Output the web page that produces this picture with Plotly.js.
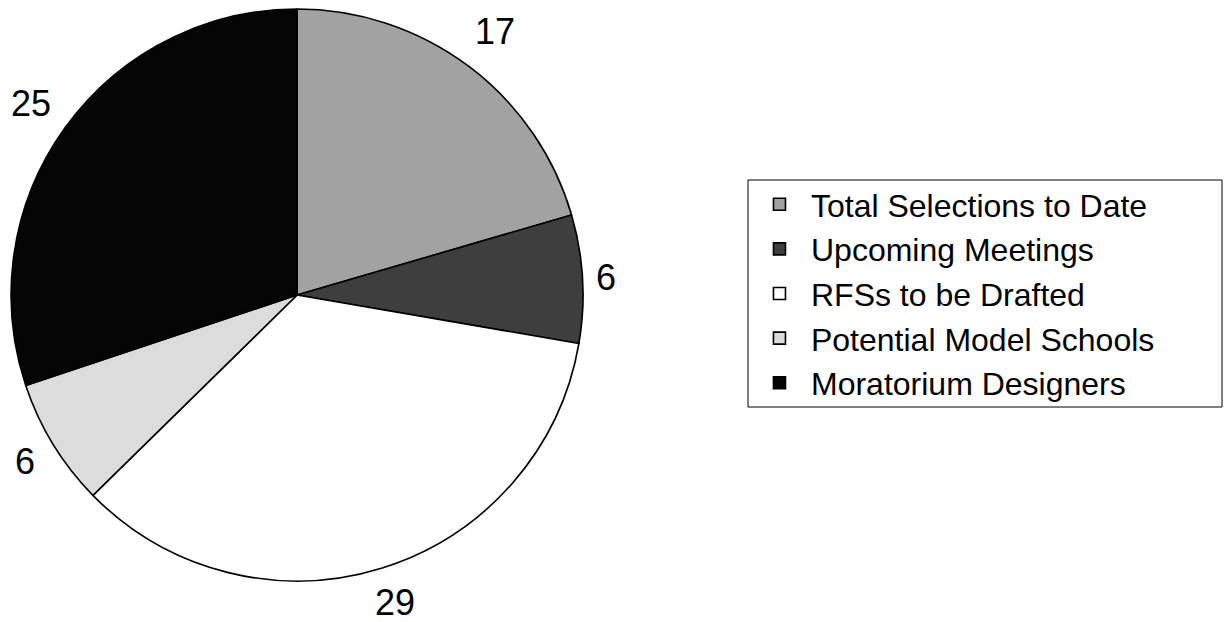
<!DOCTYPE html>
<html>
<head>
<meta charset="utf-8">
<script src="https://cdn.plot.ly/plotly-3.0.1.min.js"></script>
<style>html,body{margin:0;padding:0;background:#fff;}#chart{width:1229px;height:622px;}</style>
</head>
<body>
<div id="chart"></div>
<script>
const categories = ["Total Selections to Date", "Upcoming Meetings", "RFSs to be Drafted", "Potential Model Schools", "Moratorium Designers"];
const values = [17, 6, 29, 6, 25];
const colors = ["#a2a2a2", "#3e3e3e", "#ffffff", "#dcdcdc", "#050505"];

const W = 1229, H = 622;
const pieDomain = {x: [0.009, 0.4744], y: [0.0659, 0.9855]};
const labelFont = {family: "Liberation Sans, Arial, sans-serif", size: 36, color: "#000"};

// label positions derived from the data: slice mid-angle, just outside the rim
const cx = (pieDomain.x[0] + pieDomain.x[1]) / 2 * W;
const cy = (1 - (pieDomain.y[0] + pieDomain.y[1]) / 2) * H;
const R = Math.min((pieDomain.x[1] - pieDomain.x[0]) * W, (pieDomain.y[1] - pieDomain.y[0]) * H) / 2;
const total = values.reduce((a, b) => a + b, 0);
let cum = 0;
const annotations = values.map(v => {
  const mid = (cum + v / 2) / total * 2 * Math.PI;
  cum += v;
  const s = Math.sin(mid), c = Math.cos(mid);
  const txt = String(v);
  const halfW = 0.556 * labelFont.size * txt.length / 2;
  const halfH = 24;
  const d = R + 12 + Math.abs(s) * halfW + Math.abs(c) * halfH;
  const px = cx + d * s, py = Math.min(cy - d * c, H - 20);
  return {
    x: px / W, y: 1 - py / H, xref: "paper", yref: "paper",
    xanchor: "center", yanchor: "middle",
    text: txt, showarrow: false, font: labelFont
  };
});

const data = [{
  type: "pie",
  labels: categories,
  values: values,
  sort: false,
  direction: "clockwise",
  rotation: 0,
  textinfo: "none",
  marker: {colors: colors, line: {color: "#000", width: 1.6}},
  domain: pieDomain,
  hoverinfo: "label+value"
}];

const layout = {
  width: W, height: H,
  margin: {l: 0, r: 0, t: 0, b: 0},
  paper_bgcolor: "#fff",
  showlegend: true,
  annotations: annotations,
  shapes: [{
    type: "rect", xref: "paper", yref: "paper",
    x0: 748 / W, x1: 1222 / W, y0: 1 - 407 / H, y1: 1 - 180 / H,
    line: {color: "#000", width: 1}, fillcolor: "rgba(0,0,0,0)", layer: "above"
  }],
  legend: {
    x: 0.6086, xanchor: "left",
    y: 1 - 293.5 / H, yanchor: "middle",
    bgcolor: "rgba(255,255,255,0)",
    borderwidth: 0,
    itemwidth: 53,
    font: {family: "Liberation Sans, Arial, sans-serif", size: 32, color: "#000"},
    tracegroupgap: 0
  }
};

Plotly.newPlot("chart", data, layout, {staticPlot: true});
</script>
</body>
</html>
